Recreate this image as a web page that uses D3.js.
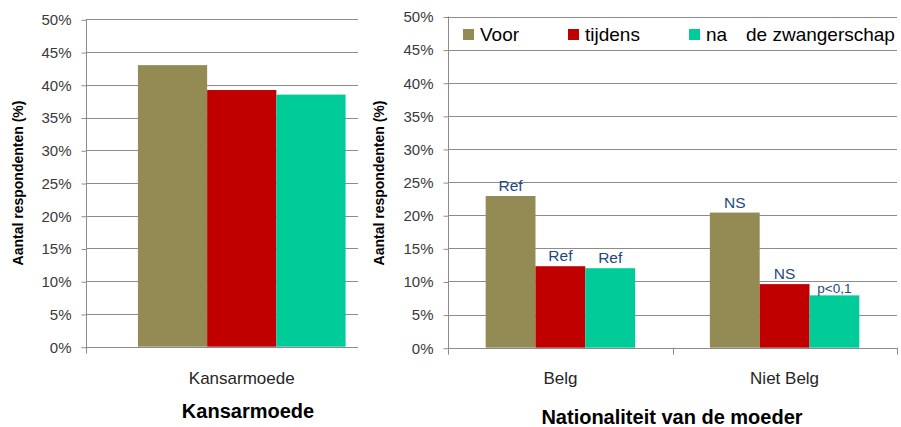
<!DOCTYPE html>
<html>
<head>
<meta charset="utf-8">
<script src="https://cdn.jsdelivr.net/npm/d3@7"></script>
<style>
body { margin: 0; background: #fff; }
svg { display: block; }
text { font-family: "Liberation Sans", Arial, sans-serif; }
</style>
</head>
<body>
<svg id="chart" width="901" height="427"></svg>
<script>
// data (percent)
var series = ["Voor", "tijdens", "na"];
var yTicks = [0, 5, 10, 15, 20, 25, 30, 35, 40, 45, 50];

var kansCategories = ["Kansarmoede"];
var kansVoor = [43.0];
var kansTijdens = [39.2];
var kansNa = [38.5];

var natCategories = ["Belg", "Niet Belg"];
var natVoor = [22.9, 20.4];
var natTijdens = [12.3, 9.6];
var natNa = [12.0, 7.9];
var natNotesVoor = ["Ref", "NS"];
var natNotesTijdens = ["Ref", "NS"];
var natNotesNa = ["Ref", "p<0,1"];

var colours = ["#948A54", "#C00000", "#00CC99"];
var gridColour = "#8c8c8c";

var svg = d3.select("#chart");

function drawPanel(p) {
    var g = svg.append("g");
    var y = d3.scaleLinear().domain([0, 50]).range([p.bottom, p.top]);
    var x0 = d3.scaleBand().domain(p.categories).range([p.left, p.right]);
    var x1 = d3.scaleBand().domain(series)
        .range([x0.bandwidth() / 6, x0.bandwidth() * 5 / 6]); // bars take 2/3 of a category

    // gridlines
    g.selectAll(".grid").data(yTicks).enter().append("line")
        .attr("x1", p.left).attr("x2", p.gridRight)
        .attr("y1", function(d) { return Math.round(y(d)) + 0.5; })
        .attr("y2", function(d) { return Math.round(y(d)) + 0.5; })
        .attr("stroke", gridColour);

    // y axis with ticks + labels
    var yAxis = d3.axisLeft(y).tickValues(yTicks).tickSize(5).tickPadding(10)
        .tickFormat(function(d) { return d + "%"; });
    var ya = g.append("g").attr("transform", "translate(" + (Math.round(p.left) + 0.5) + ",0.5)").call(yAxis);
    ya.select(".domain").remove();
    ya.selectAll(".tick line").attr("stroke", gridColour);
    ya.selectAll(".tick text").attr("font-size", "15px").attr("fill", "#3a3a3a")
        .style("font-family", "'Liberation Sans', Arial, sans-serif");

    // axis line + category separators
    g.append("line")
        .attr("x1", Math.round(p.left) + 0.5).attr("x2", Math.round(p.left) + 0.5)
        .attr("y1", p.top).attr("y2", p.bottom + 7)
        .attr("stroke", gridColour);
    var seps = p.categories.map(function(c) { return x0(c) + x0.bandwidth(); })
        .filter(function(d) { return d <= p.gridRight; });
    g.selectAll(".sep").data(seps).enter().append("line")
        .attr("x1", function(d) { return Math.round(d) + 0.5; })
        .attr("x2", function(d) { return Math.round(d) + 0.5; })
        .attr("y1", p.bottom).attr("y2", p.bottom + 7)
        .attr("stroke", gridColour);

    // bars
    var rows = [];
    p.categories.forEach(function(c, i) {
        series.forEach(function(s, j) {
            rows.push({ cat: c, s: s, j: j, v: p.values[j][i], note: p.notes ? p.notes[j][i] : null });
        });
    });
    g.selectAll(".bar").data(rows).enter().append("rect")
        .attr("x", function(d) { return x0(d.cat) + x1(d.s); })
        .attr("width", x1.bandwidth())
        .attr("y", function(d) { return y(d.v); })
        .attr("height", function(d) { return y(0) - y(d.v); })
        .attr("fill", function(d) { return colours[d.j]; });

    // notes above bars
    g.selectAll(".note").data(rows.filter(function(d) { return d.note; })).enter().append("text")
        .attr("x", function(d) { return x0(d.cat) + x1(d.s) + x1.bandwidth() / 2; })
        .attr("y", function(d) { return y(d.v) - (d.note.length > 3 ? 2 : 5); })
        .attr("text-anchor", "middle")
        .attr("font-size", function(d) { return d.note.length > 3 ? "13.5px" : "15.5px"; })
        .attr("fill", "#1F497D")
        .text(function(d) { return d.note; });

    // category labels
    g.selectAll(".cat").data(p.categories).enter().append("text")
        .attr("x", function(d) { return x0(d) + x0.bandwidth() / 2; })
        .attr("y", 384)
        .attr("text-anchor", "middle")
        .attr("font-size", "17px")
        .attr("fill", "#262626")
        .text(function(d) { return d; });

    // y title
    g.append("text")
        .attr("transform", "translate(" + p.yTitleX + ",183) rotate(-90)")
        .attr("text-anchor", "middle")
        .attr("dominant-baseline", "central")
        .attr("font-size", "14px")
        .attr("font-weight", "bold")
        .text("Aantal respondenten (%)");

    // x title
    g.append("text")
        .attr("x", p.titleX).attr("y", p.titleY)
        .attr("text-anchor", "middle")
        .attr("font-size", "20px")
        .attr("font-weight", "bold")
        .text(p.title);
}

drawPanel({
    categories: kansCategories,
    values: [kansVoor, kansTijdens, kansNa],
    left: 86, right: 397.5, gridRight: 358, top: 19.3, bottom: 346.7,
    yTitleX: 18, title: "Kansarmoede", titleX: 248, titleY: 418
});

drawPanel({
    categories: natCategories,
    values: [natVoor, natTijdens, natNa],
    notes: [natNotesVoor, natNotesTijdens, natNotesNa],
    left: 448.3, right: 896.7, gridRight: 897, top: 16.5, bottom: 347.7,
    yTitleX: 379, title: "Nationaliteit van de moeder", titleX: 672, titleY: 424
});

// legend (right panel)
var legendX = [463, 568, 689];
var legend = svg.append("g");
legend.selectAll("rect").data(series).enter().append("rect")
    .attr("x", function(d, i) { return legendX[i]; })
    .attr("y", 29)
    .attr("width", 11).attr("height", 11)
    .attr("fill", function(d, i) { return colours[i]; });
legend.selectAll("text.lab").data(series).enter().append("text")
    .attr("class", "lab")
    .attr("x", function(d, i) { return legendX[i] + 17; })
    .attr("y", 40.5)
    .attr("font-size", "19px")
    .attr("fill", "#000")
    .text(function(d) { return d; });
legend.append("text")
    .attr("x", 746).attr("y", 40.5)
    .attr("font-size", "19px")
    .text("de zwangerschap");
</script>
</body>
</html>
